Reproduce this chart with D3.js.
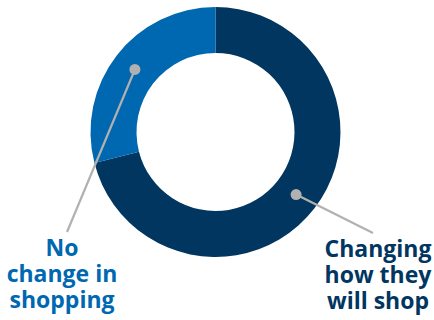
<!DOCTYPE html>
<html>
<head>
<meta charset="utf-8">
<script src="https://cdn.jsdelivr.net/npm/d3@7"></script>
<style>
  html, body { margin: 0; padding: 0; background: #fff; }
  svg { display: block; }
  text { font-family: "Open Sans", Lato, sans-serif; font-weight: 700; }
</style>
</head>
<body>
<svg id="chart" width="434" height="320"></svg>
<script>
const categories = ["Changing how they will shop", "No change in shopping"];
const values = [71, 29];
const labelLines = [["Changing", "how they", "will shop"], ["No", "change in", "shopping"]];
const colors = ["#00365f", "#0067b1"];

const width = 434, height = 320;
const cx = 215.5, cy = 132;
const outerR = 125, innerR = 79;

const svg = d3.select("#chart");
const g = svg.append("g").attr("transform", `translate(${cx},${cy})`);

const pie = d3.pie().sort(null).value(d => d.value);
const arcs = pie(categories.map((c, i) => ({ name: c, value: values[i], i })));
const arc = d3.arc().innerRadius(innerR).outerRadius(outerR);

g.selectAll("path.slice")
  .data(arcs)
  .join("path")
  .attr("class", "slice")
  .attr("d", arc)
  .attr("fill", d => colors[d.data.i]);

const labelPos = [
  { x: 378 - cx, y: 256.5 - cy, lineEnd: [373 - cx, 233 - cy] },
  { x: 62 - cx, y: 256 - cy, lineEnd: [67 - cx, 232 - cy] }
];

arcs.forEach((d) => {
  const c = arc.centroid(d);
  const lp = labelPos[d.data.i];
  g.append("line")
    .attr("x1", c[0]).attr("y1", c[1])
    .attr("x2", lp.lineEnd[0]).attr("y2", lp.lineEnd[1])
    .attr("stroke", "#b1b1b1").attr("stroke-width", 2.2);
  g.append("circle")
    .attr("cx", c[0]).attr("cy", c[1]).attr("r", 5.5)
    .attr("fill", "#b1b1b1");
  const t = g.append("text")
    .attr("x", lp.x).attr("y", lp.y)
    .attr("text-anchor", "middle")
    .attr("fill", colors[d.data.i])
    .style("font-size", "23px");
  labelLines[d.data.i].forEach((line, j) => {
    t.append("tspan").attr("x", lp.x).attr("y", lp.y + j * 26).text(line);
  });
});
</script>
</body>
</html>
